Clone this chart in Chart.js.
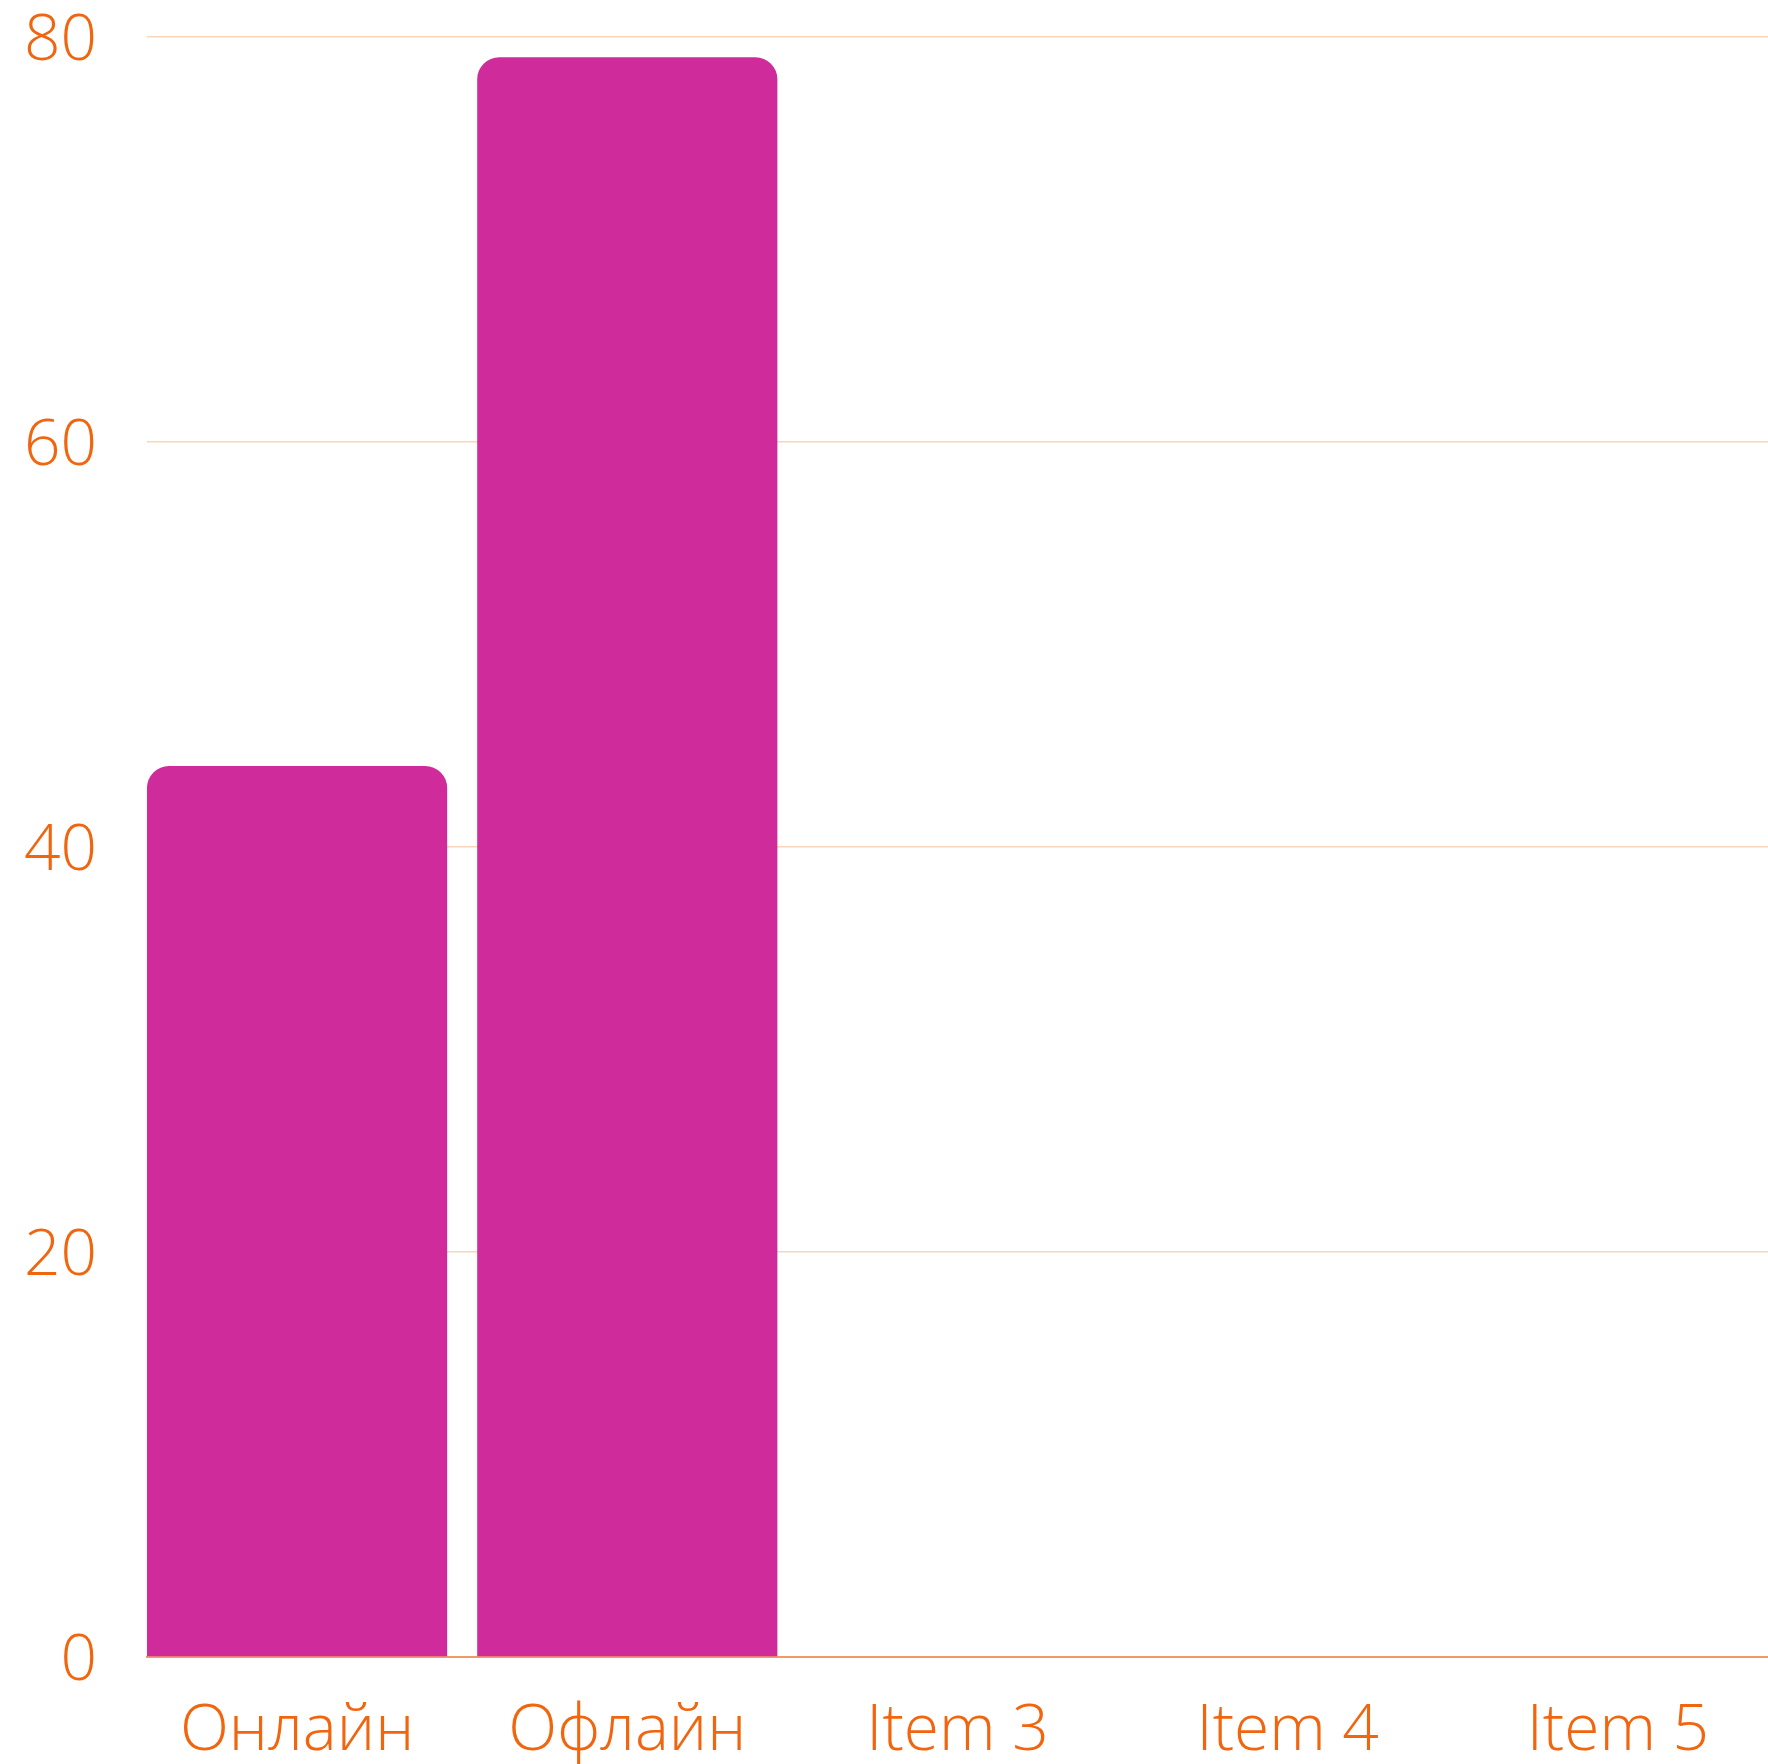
<!DOCTYPE html>
<html>
<head>
<meta charset="utf-8">
<script src="https://cdn.jsdelivr.net/npm/chart.js@4/dist/chart.umd.min.js"></script>
<style>
  html, body { margin: 0; padding: 0; background: #ffffff; overflow: hidden; }
  #wrap { width: 1768px; height: 1764px; }
</style>
</head>
<body>
<div id="wrap"><canvas id="chart" width="1768" height="1764"></canvas></div>
<script>
// Categories along the x axis and the value of each bar
const categories = ['Онлайн', 'Офлайн', 'Item 3', 'Item 4', 'Item 5'];
const values = [44, 79, null, null, null];
// Value axis ticks
const yTicks = [0, 20, 40, 60, 80];

const textColor = '#F2650F';
const gridColor = '#FAD5BA';
const axisColor = '#F29A66';
const barColor = '#CF2B9B';
const fontFamily = '"Open Sans", "Noto Sans", sans-serif';

// Share of each slot filled by its bar; the first and last bars sit flush with the plot edges
const barFill = 300 / 330;

new Chart(document.getElementById('chart'), {
  type: 'bar',
  data: {
    datasets: [{
      data: categories.map((c, i) => ({ x: i, y: values[i] })),
      backgroundColor: barColor,
      borderWidth: 0,
      borderRadius: { topLeft: 22, topRight: 22, bottomLeft: 0, bottomRight: 0 },
      borderSkipped: 'bottom',
      categoryPercentage: barFill,
      barPercentage: 1
    }]
  },
  options: {
    responsive: false,
    animation: false,
    layout: { padding: { top: 37, right: 0, bottom: 0, left: 0 } },
    plugins: { legend: { display: false }, tooltip: { enabled: false } },
    scales: {
      x: {
        type: 'linear',
        offset: false,
        min: -barFill / 2,
        max: categories.length - 1 + barFill / 2,
        afterBuildTicks: (scale) => { scale.ticks = categories.map((c, i) => ({ value: i })); },
        afterFit: (scale) => { scale.height = 107; },
        grid: { display: false, drawTicks: false },
        border: { display: true, color: axisColor, width: 2 },
        ticks: {
          color: textColor,
          font: { family: fontFamily, size: 64, weight: '300', lineHeight: 1 },
          padding: 43,
          maxRotation: 0,
          autoSkip: false,
          callback: (v) => categories[v]
        }
      },
      y: {
        min: yTicks[0],
        max: yTicks[yTicks.length - 1],
        afterBuildTicks: (scale) => { scale.ticks = yTicks.map(v => ({ value: v })); },
        afterFit: (scale) => {
          scale.width = 147;
          scale.paddingTop = 0;
          scale.paddingBottom = 0;
        },
        grid: { color: gridColor, lineWidth: 1.5, drawTicks: false },
        border: { display: false },
        ticks: {
          color: textColor,
          font: { family: fontFamily, size: 64, weight: '300', lineHeight: 1 },
          padding: 50,
          labelOffset: 5
        }
      }
    }
  }
});
</script>
</body>
</html>
